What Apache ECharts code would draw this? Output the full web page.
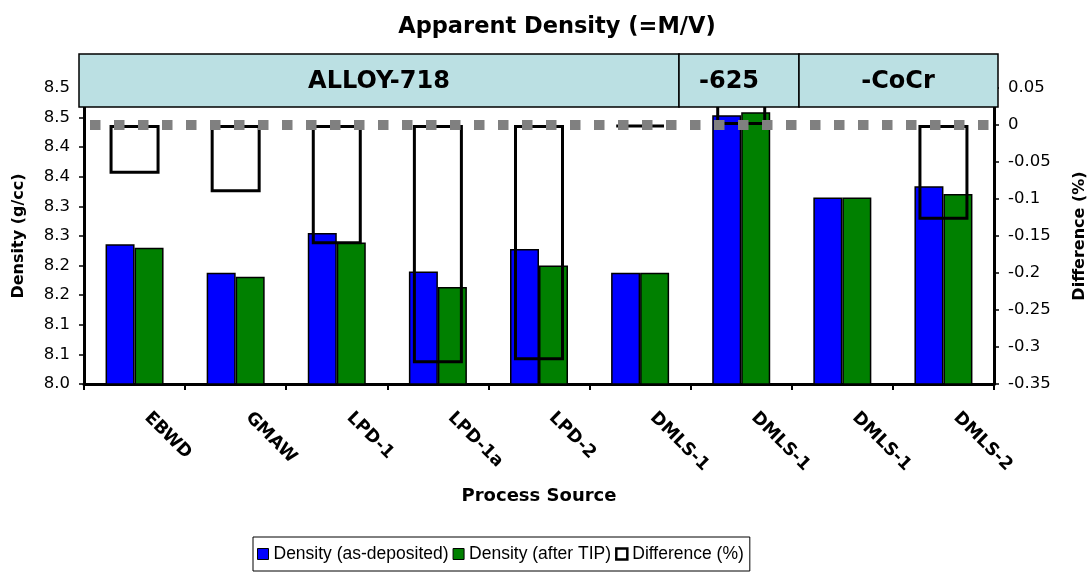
<!DOCTYPE html>
<html>
<head>
<meta charset="utf-8">
<title>Apparent Density (=M/V)</title>
<script src="https://cdn.jsdelivr.net/npm/echarts@6/dist/echarts.min.js"></script>
<style>
  html, body { margin: 0; padding: 0; background: #ffffff; }
  #chart { width: 1087px; height: 574px; }
</style>
</head>
<body>
<div id="chart"></div>
<script>
// Process sources along the x axis (DMLS-1 appears once per alloy group)
const categories = ['EBWD', 'GMAW', 'LPD-1', 'LPD-1a', 'LPD-2', 'DMLS-1', 'DMLS-1', 'DMLS-1', 'DMLS-2'];

// Density in g/cc
const densityAsDeposited = [8.236, 8.188, 8.255, 8.190, 8.228, 8.188, 8.454, 8.315, 8.334];
const densityAfterTIP    = [8.230, 8.181, 8.239, 8.164, 8.200, 8.188, 8.459, 8.315, 8.321];

// Change in density after TIP, percent ('-' = no change recorded)
const differencePct = [-0.066, -0.091, -0.161, -0.322, -0.318, -0.003, 0.06, '-', -0.128];

// Reference level drawn as a dotted line on the difference axis
const referenceLevel = 0.003;

// Alloy group labels across the top of the plot
const alloyGroups = ['ALLOY-718', '-625', '-CoCr'];

// Axis scales
const densityAxis = { min: 8.0, max: 8.5, step: 0.05 };
const differenceAxis = { min: -0.35, max: 0.05, step: 0.05 };

// Header band layout (pixels): cell edges and label centres
const bandTop = 54, bandBottom = 107;
const bandEdges = [79, 679, 799, 998];
const bandLabelX = [379, 729, 898];

const AX_FONT = '"DejaVu Sans", sans-serif';
const LEG_FONT = '"Liberation Sans", Arial, sans-serif';

const bandGraphics = [];
alloyGroups.forEach(function (label, i) {
  bandGraphics.push({
    type: 'rect',
    z: 100,
    silent: true,
    shape: { x: bandEdges[i], y: bandTop, width: bandEdges[i + 1] - bandEdges[i], height: bandBottom - bandTop },
    style: { fill: '#bbe0e3', stroke: '#000000', lineWidth: 1.5 }
  });
  bandGraphics.push({
    type: 'text',
    z: 101,
    silent: true,
    x: bandLabelX[i],
    y: (bandTop + bandBottom) / 2 + 1,
    style: {
      text: label,
      font: 'bold 24px ' + AX_FONT,
      fill: '#000000',
      align: 'center',
      verticalAlign: 'middle'
    }
  });
});

// one-decimal labels, rounding halves upward (8.05 -> 8.1, 8.45 -> 8.5)
function oneDecimal(v) {
  return (Math.round(v * 10 + 1e-6) / 10).toFixed(1);
}

const chart = echarts.init(document.getElementById('chart'), null, { renderer: 'canvas' });

const axisLineStyle = { color: '#000000', width: 3 };

chart.setOption({
  animation: false,
  backgroundColor: '#ffffff',
  title: {
    text: 'Apparent Density (=M/V)',
    left: 557,
    top: 16,
    padding: 0,
    textAlign: 'center',
    textStyle: { fontFamily: AX_FONT, fontWeight: 'bold', fontSize: 22.5, color: '#000000' }
  },
  grid: { left: 84, right: 93, top: 88, bottom: 190, containLabel: false, outerBoundsMode: 'none' },
  legend: {
    left: 253,
    top: 537,
    orient: 'horizontal',
    padding: [8, 6, 8, 4],
    borderColor: '#000000',
    borderWidth: 1,
    itemWidth: 11,
    itemHeight: 11,
    itemGap: 4,
    selectedMode: false,
    textStyle: { fontFamily: LEG_FONT, fontSize: 17.5, color: '#000000' },
    data: [
      { name: 'Density (as-deposited)', icon: 'rect', itemStyle: { color: '#0000ff', borderColor: '#000000', borderWidth: 1 } },
      { name: 'Density (after TIP)', icon: 'rect', itemStyle: { color: '#008000', borderColor: '#000000', borderWidth: 1 } },
      { name: 'Difference (%)', icon: 'rect', itemStyle: { color: '#ffffff', borderColor: '#000000', borderWidth: 2.5 } }
    ]
  },
  xAxis: [
    {
      type: 'category',
      data: categories,
      position: 'bottom',
      boundaryGap: true,
      axisLine: { show: true, onZero: false, lineStyle: axisLineStyle },
      axisTick: { show: true, interval: 0, length: 6, lineStyle: { color: '#000000', width: 2 } },
      axisLabel: {
        interval: 0,
        rotate: -45,
        margin: 31,
        padding: [0, 0, 0, 9],
        verticalAlign: 'bottom',
        fontFamily: AX_FONT,
        fontWeight: 'bold',
        fontSize: 17.5,
        color: '#000000'
      },
      splitLine: { show: false },
      name: 'Process Source',
      nameLocation: 'middle',
      nameGap: 103,
      nameTextStyle: { fontFamily: AX_FONT, fontWeight: 'bold', fontSize: 18, color: '#000000' }
    },
    {
      type: 'category',
      data: categories,
      position: 'bottom',
      show: false,
      axisLine: { show: false, onZero: false },
      axisTick: { show: false },
      axisLabel: { show: false },
      splitLine: { show: false }
    }
  ],
  yAxis: [
    {
      type: 'value',
      position: 'left',
      min: densityAxis.min,
      max: densityAxis.max,
      interval: densityAxis.step,
      axisLine: { show: true, lineStyle: axisLineStyle },
      axisTick: { show: true, length: 5, lineStyle: { color: '#000000', width: 1.5 } },
      axisLabel: {
        margin: 14,
        fontFamily: AX_FONT,
        fontSize: 16.5,
        color: '#000000',
        formatter: oneDecimal
      },
      splitLine: { show: false },
      name: 'Density (g/cc)',
      nameLocation: 'middle',
      nameGap: 57,
      nameTextStyle: { fontFamily: AX_FONT, fontWeight: 'bold', fontSize: 16, color: '#000000' }
    },
    {
      type: 'value',
      position: 'right',
      min: differenceAxis.min,
      max: differenceAxis.max,
      interval: differenceAxis.step,
      axisLine: { show: true, lineStyle: axisLineStyle },
      axisTick: { show: true, length: 5, lineStyle: { color: '#000000', width: 1.5 } },
      axisLabel: {
        margin: 14,
        fontFamily: AX_FONT,
        fontSize: 16.5,
        color: '#000000',
        formatter: function (v) { return String(parseFloat(v.toFixed(2)) || 0); }
      },
      splitLine: { show: false },
      name: 'Difference (%)',
      nameLocation: 'middle',
      nameGap: 78,
      nameRotate: 90,
      nameTextStyle: { fontFamily: AX_FONT, fontWeight: 'bold', fontSize: 16, color: '#000000' }
    }
  ],
  series: [
    {
      name: 'Density (as-deposited)',
      type: 'bar',
      xAxisIndex: 0,
      yAxisIndex: 0,
      data: densityAsDeposited,
      barWidth: 29,
      barGap: '0%',
      clip: true,
      silent: true,
      z: 2,
      itemStyle: { color: '#0000ff', borderColor: '#000000', borderWidth: 1.5 }
    },
    {
      name: 'Density (after TIP)',
      type: 'bar',
      xAxisIndex: 0,
      yAxisIndex: 0,
      data: densityAfterTIP,
      barWidth: 29,
      barGap: '0%',
      clip: true,
      silent: true,
      z: 2,
      itemStyle: { color: '#008000', borderColor: '#000000', borderWidth: 1.5 }
    },
    {
      name: 'Difference (%)',
      type: 'bar',
      xAxisIndex: 1,
      yAxisIndex: 1,
      data: differencePct,
      barWidth: 50,
      clip: true,
      silent: true,
      z: 3,
      itemStyle: { color: 'rgba(0,0,0,0)', borderColor: '#000000', borderWidth: 3 }
    },
    {
      name: 'reference',
      type: 'line',
      xAxisIndex: 1,
      yAxisIndex: 1,
      data: [],
      silent: true,
      z: 5,
      markLine: {
        silent: true,
        symbol: ['none', 'none'],
        label: { show: false },
        lineStyle: { color: '#808080', width: 10, type: [10.5, 13.5], dashOffset: 18, cap: 'butt', opacity: 1 },
        emphasis: { disabled: true },
        data: [{ yAxis: referenceLevel }]
      }
    }
  ],
  graphic: bandGraphics
});
</script>
</body>
</html>
